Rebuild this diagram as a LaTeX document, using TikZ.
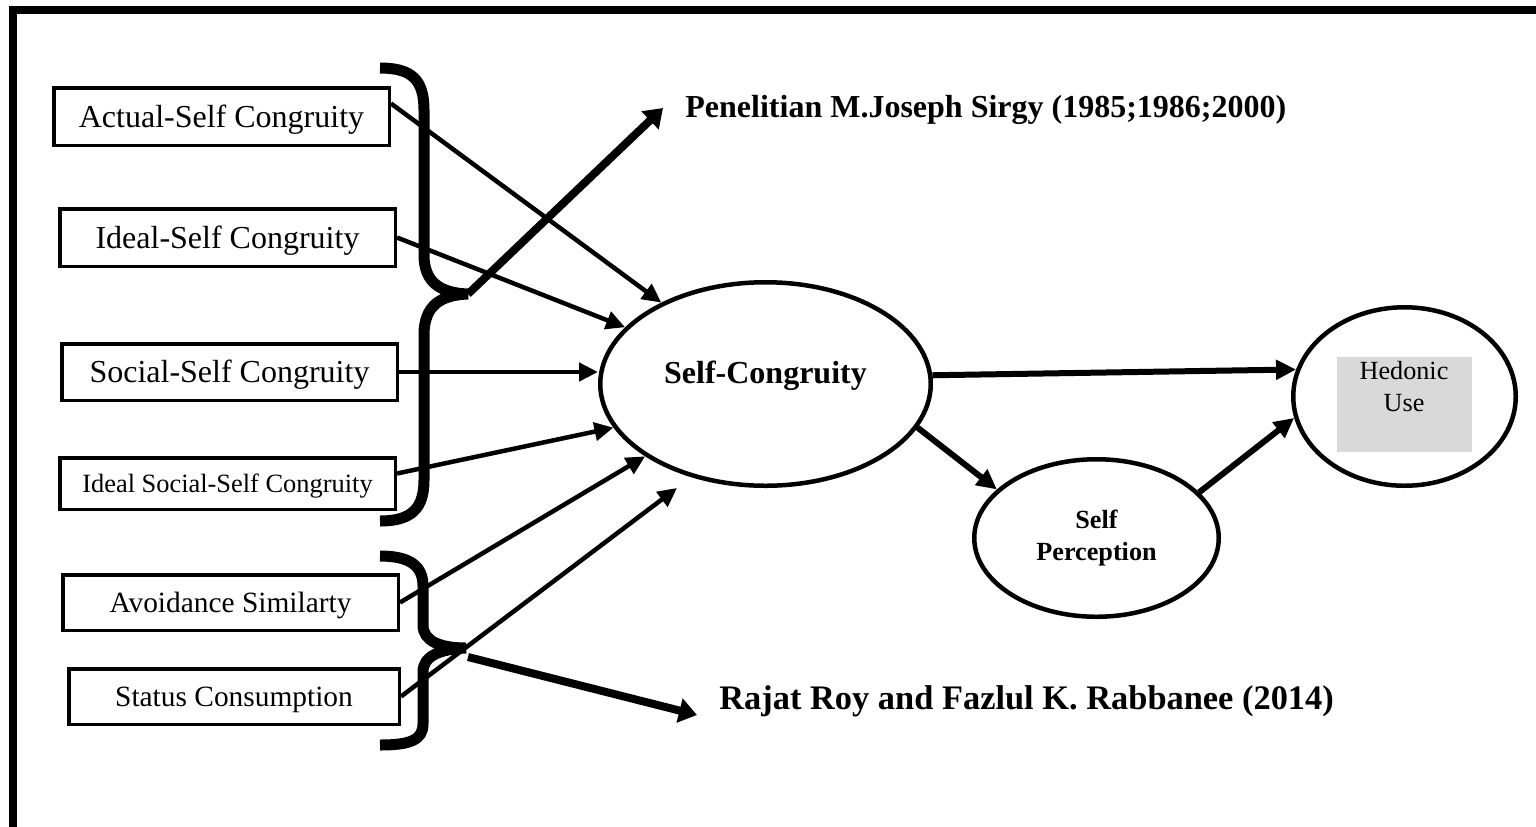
\documentclass[tikz,border=0pt]{standalone}
\usepackage{fontspec}
\setmainfont{Liberation Serif}
\usetikzlibrary{arrows.meta,shapes.geometric,calc}
\definecolor{hedgrey}{HTML}{D9D9D9}
\begin{document}
\begin{tikzpicture}[x=0.5pt,y=-0.5pt,
  boxst/.style={draw, line width=1.75pt, rectangle, inner sep=0pt, text depth=0pt},
  big/.style={font=\fontsize{16}{19}\selectfont, text height=10.56pt},
  mid/.style={font=\fontsize{14.7}{17}\selectfont, text height=9.7pt},
  small/.style={font=\fontsize{13.2}{16}\selectfont, text height=8.7pt},
  ell/.style={draw, ellipse, line width=2.25pt, inner sep=0pt},
  arr/.style={line width=2.25pt, -{Triangle[length=9.5pt,width=9pt]}},
  arrb/.style={line width=3pt, -{Triangle[length=10pt,width=9.5pt]}},
  arrt/.style={line width=4pt, -{Triangle[length=9pt,width=12pt]}},
  brace/.style={line width=5.5pt},
  cite/.style={anchor=west, inner sep=0pt, text depth=0pt},
]
\useasboundingbox (0,0) rectangle (1536,826);
\clip (0,0) rectangle (1536,826);

% outer frame
\draw[line width=4pt] (1545,10) -- (13,10) -- (13,840);

% congruity dimensions
\node[boxst, big, minimum width=167.75pt, minimum height=28.75pt] (act) at (221.5,116.5) {Actual-Self Congruity};
\node[boxst, big, minimum width=167.75pt, minimum height=28.75pt] (ide) at (227.5,237.5) {Ideal-Self Congruity};
\node[boxst, big, minimum width=167.75pt, minimum height=28.25pt] (soc) at (229.5,372) {Social-Self Congruity};
\node[boxst, small, minimum width=167.75pt, minimum height=25.75pt] (ids) at (227.5,483.5) {Ideal Social-Self Congruity};
\node[boxst, mid, minimum width=167.75pt, minimum height=27.75pt] (avo) at (230.5,602.5) {Avoidance Similarty};
\node[boxst, mid, minimum width=165.25pt, minimum height=27.75pt] (sta) at (234,696.5) {Status Consumption};

% constructs
\node[ell, minimum width=165.25pt, minimum height=101.75pt,
      font=\bfseries\fontsize{16}{19}\selectfont, text height=10.56pt, text depth=11.2pt] (sc) at (765.5,384) {Self-Congruity};
\node[ell, minimum width=122.25pt, minimum height=78.75pt, align=center,
      font=\bfseries\fontsize{13.1}{16}\selectfont] (sp) at (1096.5,538) {Self\\Perception};
\node[ell, minimum width=111.25pt, minimum height=89.25pt] (hed) at (1404.5,396.5) {};
\node[fill=hedgrey, minimum width=67.5pt, minimum height=47.5pt, inner sep=0pt] (hedfill) at (1404.5,404.5) {};
\node[align=center, font=\fontsize{13.1}{16}\selectfont, inner sep=0pt] (hedtxt) at (1404,387) {Hedonic\\Use};

% sources
\node[cite, font=\bfseries\fontsize{16}{19}\selectfont, text height=10.56pt] (pen) at (685,107) {Penelitian M.Joseph Sirgy (1985;1986;2000)};
\node[cite, font=\bfseries\fontsize{17.2}{20}\selectfont, text height=11.35pt] (raj) at (719,698) {Rajat Roy and Fazlul K. Rabbanee (2014)};

% braces grouping the dimensions
\draw[brace] (380,68) .. controls (412,68) and (424,80) .. (424,110) -- (424,255)
  .. controls (424,282) and (440,293) .. (468,294)
  .. controls (440,295) and (424,306) .. (424,335) -- (424,480)
  .. controls (424,508) and (412,521) .. (380,521);
\draw[brace] (380,556) .. controls (410,556) and (423,566) .. (423,586) -- (423,625)
  .. controls (423,641) and (440,648) .. (466,648)
  .. controls (440,649) and (423,656) .. (423,672) -- (423,724)
  .. controls (423,740) and (410,745) .. (380,745);
\coordinate (b1) at (468,294);
\coordinate (b2) at (468,657);
\coordinate (pentip) at (663,108);
\coordinate (rajtip) at (697,715);
\draw[arrt] (b1) -- (pentip);
\draw[arrt] (b2) -- (rajtip);

% paths into self-congruity
\coordinate (scin) at (677,488);
\draw[arr] ($(act.east)+(0,-13)$) -- (sc.142);
\draw[arr] (ide.east) -- (sc.158);
\draw[arr] (soc.east) -- (soc.east -| sc.west);
\draw[arr] ($(ids.east)+(0,-10)$) -- (sc.196);
\draw[arr] (avo.east) -- (sc.211);
\draw[arr] (sta.east) -- (scin);

% structural paths
\draw[arrb] (sc.3) -- (hed.166);
\draw[arrb] (sc.344) -- (sp.154);
\draw[arrb] (sp.24) -- (hed.191);
\end{tikzpicture}
\end{document}
